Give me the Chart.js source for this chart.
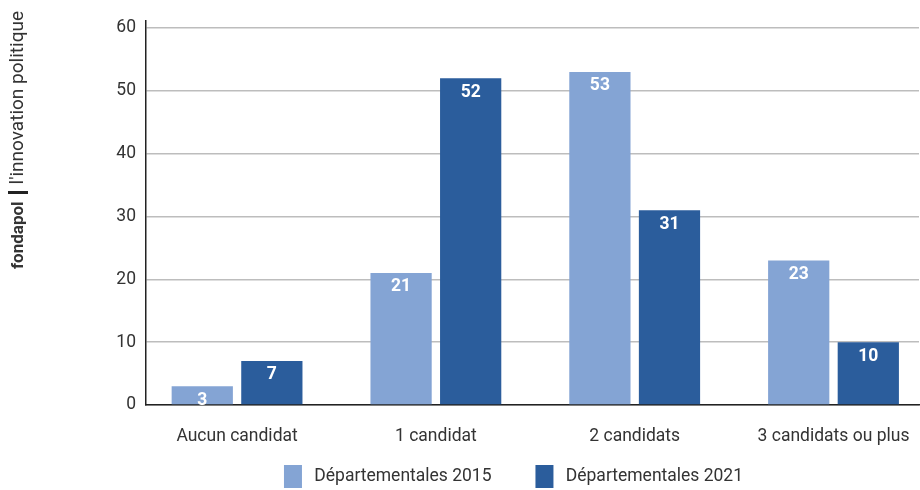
<!DOCTYPE html>
<html>
<head>
<meta charset="utf-8">
<script src="https://cdn.jsdelivr.net/npm/chart.js@4.4.1/dist/chart.umd.min.js"></script>
<style>
  html, body { margin: 0; padding: 0; background: #fff; overflow: hidden; }
  #wrap { position: relative; width: 920px; height: 490px; }
  #side { position: absolute; left: 6px; top: 269px; transform-origin: 0 0; transform: rotate(-90deg);
          white-space: nowrap; font-family: Roboto, sans-serif; font-size: 19px; line-height: 22px; color: #333; }
  #side b { font-weight: 700; font-size: 17px; }
  #side .sep { display: inline-block; width: 3px; height: 20px; background: #222; vertical-align: middle; margin: 0 7px 0 7px; }
</style>
</head>
<body>
<div id="wrap">
  <div id="side"><b>fondapol</b><span class="sep"></span>l'innovation politique</div>
  <canvas id="c" width="920" height="490"></canvas>
</div>
<script>
const categories = ["Aucun candidat", "1 candidat", "2 candidats", "3 candidats ou plus"];
const series2015 = [3, 21, 53, 23];
const series2021 = [7, 52, 31, 10];
const seriesNames = ["Départementales 2015", "Départementales 2021"];
const yTicks = [0, 10, 20, 30, 40, 50, 60];

const FONT = "Roboto, sans-serif";
const FS = 17.5;
const LEGEND_SHIFT = 54;

const valueLabels = {
  id: 'valueLabels',
  afterDatasetsDraw(chart) {
    const ctx = chart.ctx;
    ctx.save();
    ctx.fillStyle = '#fff';
    ctx.font = 'bold ' + FS + 'px ' + FONT;
    ctx.textAlign = 'center';
    ctx.textBaseline = 'middle';
    chart.data.datasets.forEach((ds, di) => {
      const meta = chart.getDatasetMeta(di);
      meta.data.forEach((bar, i) => {
        ctx.fillText(String(ds.data[i].y), bar.x, bar.y + 14);
      });
    });
    ctx.restore();
  }
};

const legendShift = {
  id: 'legendShift',
  afterLayout(chart) {
    if (chart.legend) { chart.legend.left += LEGEND_SHIFT; chart.legend.right += LEGEND_SHIFT; }
  }
};

new Chart(document.getElementById('c'), {
  type: 'bar',
  data: {
    datasets: [
      { label: seriesNames[0], data: series2015.map((v, i) => ({x: i, y: v})), backgroundColor: '#84a4d4' },
      { label: seriesNames[1], data: series2021.map((v, i) => ({x: i, y: v})), backgroundColor: '#2b5d9c' }
    ]
  },
  options: {
    responsive: false,
    animation: false,
    categoryPercentage: 0.70,
    barPercentage: 0.88,
    layout: { padding: { top: 20, right: 1, left: 0, bottom: -8 } },
    plugins: {
      tooltip: { enabled: false },
      legend: {
        position: 'bottom',
        labels: {
          boxWidth: 18, boxHeight: 23, padding: 10,
          color: '#333',
          font: { family: FONT, size: FS },
          generateLabels(chart) {
            return Chart.defaults.plugins.legend.labels.generateLabels(chart).map((l, i) => {
              l.text = '\u2009' + l.text + (i === 0 ? '\u2003\u2002\u2009\u2009' : '');
              l.lineWidth = 0;
              return l;
            });
          }
        }
      }
    },
    scales: {
      x: {
        type: 'linear',
        offset: false,
        min: -0.458, max: 3.43,
        afterBuildTicks(scale) { scale.ticks = categories.map((c, i) => ({ value: i })); },
        afterFit(scale) { scale.height = 50; scale.paddingLeft = 0; scale.paddingRight = 0; },
        grid: { display: false, drawTicks: false },
        border: { display: true, color: '#222', width: 1.5 },
        ticks: {
          padding: 21, color: '#333', font: { family: FONT, size: FS },
          maxRotation: 0, autoSkip: false,
          callback: (v) => categories[v]
        }
      },
      y: {
        min: 0, max: 61.2,
        afterBuildTicks(scale) { scale.ticks = yTicks.map(v => ({ value: v })); },
        afterFit(scale) { scale.width = 146; },
        grid: { color: '#bdbdbd', lineWidth: 1.5, drawTicks: false },
        border: { display: true, color: '#222', width: 1.5 },
        ticks: { padding: 10, color: '#333', font: { family: FONT, size: FS } }
      }
    }
  },
  plugins: [valueLabels, legendShift]
});
</script>
</body>
</html>
